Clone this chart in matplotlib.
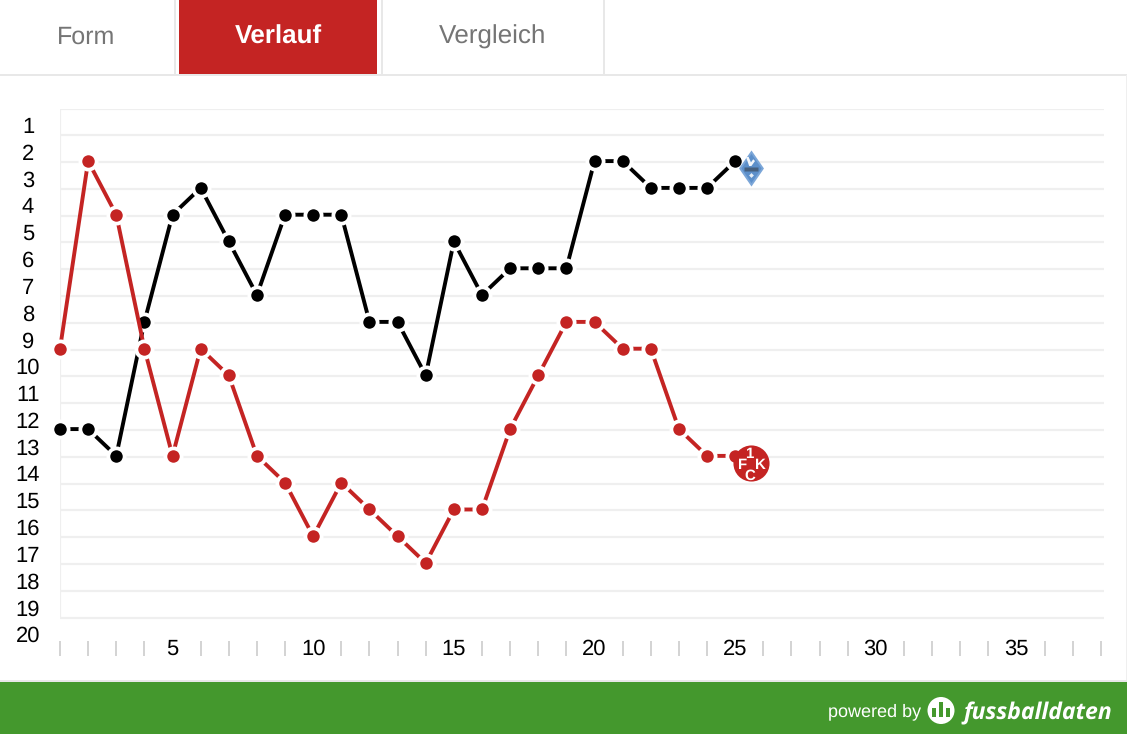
import matplotlib
matplotlib.use("Agg")
import matplotlib.pyplot as plt
from matplotlib.patches import Rectangle, Circle
from matplotlib.transforms import offset_copy

plt.rcParams['font.family'] = ['Liberation Sans', 'DejaVu Sans']
plt.rcParams['text.hinting'] = 'none'
plt.rcParams['text.hinting_factor'] = 1

W, H = 1127, 734
RED = '#c42423'
GREEN = '#44982d'
LINE = '#e8e8e8'
GRID = '#efefef'

# Tabellenplatz pro Spieltag
spieltage = list(range(1, 26))
mannheim = [12, 12, 13, 8, 4, 3, 5, 7, 4, 4, 4, 8, 8, 10, 5, 7, 6, 6, 6, 2, 2, 3, 3, 3, 2]
kaiserslautern = [9, 2, 4, 9, 13, 9, 10, 13, 14, 16, 14, 15, 16, 17, 15, 15, 12, 10, 8, 8, 9, 9, 12, 13, 13]
plaetze = list(range(1, 21))
alle_spieltage = list(range(1, 39))
tabs = ['Form', 'Verlauf', 'Vergleich']

fig = plt.figure(figsize=(W / 100, H / 100), dpi=100, facecolor='white')

# Rahmen, Reiter und Fusszeile in Pixeln
bg = fig.add_axes([0, 0, 1, 1])
bg.set_xlim(0, W)
bg.set_ylim(H, 0)
bg.axis('off')
bg.add_patch(Rectangle((179, 0), 198, 74, color=RED, lw=0))
bg.add_patch(Rectangle((0, 74), W, 2, color=LINE, lw=0))
for x in [174, 381, 603]:
    bg.add_patch(Rectangle((x, 0), 2, 75, color=LINE, lw=0))
bg.add_patch(Rectangle((1125.5, 75), 1.5, 607, color='#efefef', lw=0))
bg.add_patch(Rectangle((0, 680), W, 2, color=LINE, lw=0))
bg.add_patch(Rectangle((0, 682), W, 52, color=GREEN, lw=0))
bg.text(86.5, 44, tabs[0], color='#757575', fontsize=18.3, ha='center', va='baseline')
bg.text(278, 44, tabs[1], color='white', fontsize=19, fontweight='bold', ha='center', va='baseline')
bg.text(492.5, 44, tabs[2], color='#757575', fontsize=18.6, ha='center', va='baseline')

bg.text(828, 716, 'powered by', color='white', fontsize=13, ha='left', va='baseline')
bg.add_patch(Circle((941, 710.5), 13.5, color='white', lw=0))
for bx, top in [(934, 708), (941, 702), (948, 708)]:
    bg.add_patch(Rectangle((bx - 2, top), 4, 717 - top, color=GREEN, lw=0))
bg.text(963, 719, 'fussballdaten', color='white', fontsize=16.8, fontweight='bold', style='italic',
        ha='left', va='baseline', family='Open Sans')

# Diagramm: Platz 0 liegt bei y=108.5 px, ein Platz sind 26.8 px
ax = fig.add_axes([60 / W, 1 - 656 / H, 1044 / W, (656 - 108.5) / H])
ax.patch.set_visible(False)
ax.set_xlim(1, 38.11)
ax.set_ylim(20.43, 0)
for s in ax.spines.values():
    s.set_visible(False)

ax.hlines([0] + plaetze[:-1], 1, 38.11, color=GRID, lw=1.6, zorder=1)
ax.vlines(1, 0, 19, color=GRID, lw=1.6, zorder=1)

ax.set_yticks([])
for p in plaetze:
    ax.annotate(str(p), xy=(0, p), xycoords=('axes fraction', 'data'), xytext=(-32, 8),
                textcoords='offset pixels', ha='center', va='center', fontsize=15.8, color='black')

beschriftet = [s for s in alle_spieltage if s % 5 == 0]
ax.set_xticks(beschriftet)
ax.set_xticks([s for s in alle_spieltage if s % 5 != 0], minor=True)
ax.tick_params(axis='x', which='major', length=0, pad=-12.2, labelsize=15.8, labelcolor='black')
ax.tick_params(axis='x', which='minor', direction='in', length=10.8, width=1.3, color='#d0d0d0')

# die Punkte liegen einen Pixel ueber den Gitterlinien
t_linie = offset_copy(ax.transData, fig=fig, x=0, y=1, units='dots')
for werte, farbe in [(mannheim, 'black'), (kaiserslautern, RED)]:
    ax.plot(spieltage, werte, transform=t_linie, color=farbe, lw=2.8, marker='o', ms=11.7, mfc=farbe,
            mec='white', mew=2.7, clip_on=False, zorder=3, solid_joinstyle='round')

# Vereinslogos am letzten Punkt
def emblem(x, y, dx, dy, marker, ms, farbe, z=6):
    t = offset_copy(ax.transData, fig=fig, x=dx, y=dy, units='dots')
    ax.plot(x, y, transform=t, marker=marker, ms=ms, mfc=farbe, mec='none', clip_on=False, zorder=z)

x_end, y_m, y_k = spieltage[-1], mannheim[-1], kaiserslautern[-1]
raute = [(0, 1), (0.69, 0), (0, -1), (-0.69, 0)]
emblem(x_end, y_m, 15.5, -6, raute, 26, '#7ba6d8', 5)
emblem(x_end, y_m, 15.5, -6, raute, 21, '#5c8fca', 5)
emblem(x_end, y_m, 15, 1, [(-1, 1), (-0.4, 1), (0.1, -0.2), (0.6, 0.5), (1, 0.1), (0.2, -1), (-0.3, -1)], 6.5, '#f2f6fb')
emblem(x_end, y_m, 15.5, -7, [(-1, 0.22), (1, 0.22), (1, -0.22), (-1, -0.22)], 10.5, '#46607f')
emblem(x_end, y_m, 15.5, -13, [(0, 1), (1, 0), (0, -1), (-1, 0)], 3.5, '#e6eef7')

emblem(x_end, y_k, 15.5, -6, 'o', 26, RED, 5)
for txt, dx, dy in [('1', 14, -1), ('F', 7, -12), ('K', 25, -12), ('C', 15, -23)]:
    ax.annotate(txt, xy=(x_end, y_k), xytext=(dx, dy), textcoords='offset pixels',
                ha='center', va='baseline', fontsize=11, fontweight='bold', color='white', zorder=6)

fig.savefig('out.png', dpi=100)
